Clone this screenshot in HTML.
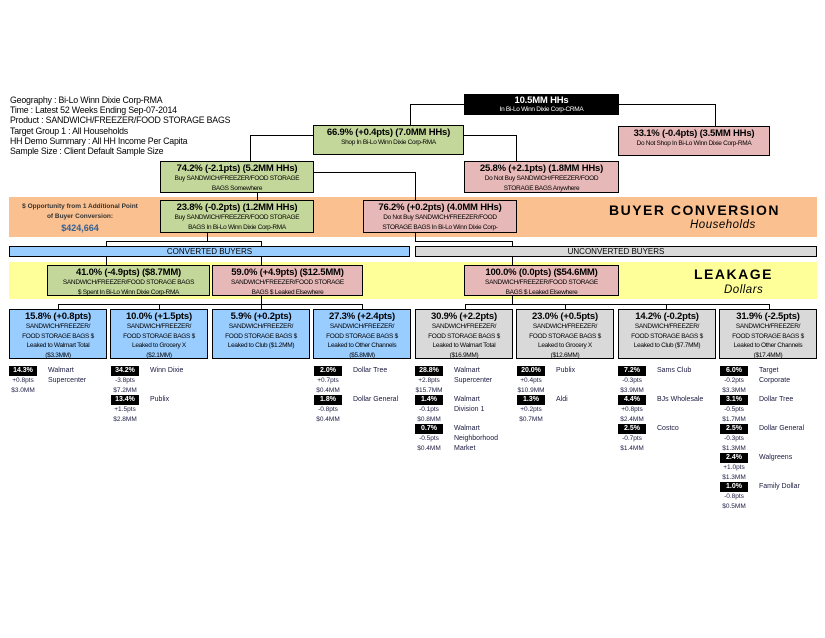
<!DOCTYPE html>
<html><head><meta charset="utf-8"><style>
body{margin:0;width:825px;height:638px;background:#fff;position:relative;overflow:hidden;font-family:"Liberation Sans",Arial,sans-serif;color:#000}
div{position:absolute;box-sizing:border-box}
.hl{height:1px;background:#000}
.vl{width:1px;background:#000}
.bx{border:1px solid #000;text-align:center;line-height:1;overflow:hidden}
.g{background:#c4d79b}.p{background:#e6b8b7}.b{background:#99ccff}.gr{background:#d9d9d9}
.t{font-size:9.5px;font-weight:bold;display:block;margin-top:2px;letter-spacing:-0.2px}
.s{font-size:6.5px;display:block;line-height:10px;letter-spacing:-0.3px;white-space:nowrap}
.l .t{margin-top:1px;line-height:11px}
.l .s{line-height:9.6px}
.k{background:#000;color:#fff;font-size:7px;font-weight:bold;width:28px;height:10px;text-align:center;line-height:10px}
.n{font-size:7px;line-height:10px;color:#1a1a40;white-space:nowrap}
.v{font-size:6.5px;line-height:9.5px;color:#1a1a40;width:28px;text-align:center}
</style></head><body>
<div style="left:10px;top:95px;font-size:8.8px;line-height:10.2px;letter-spacing:-0.2px">Geography : Bi-Lo Winn Dixie Corp-RMA<br>Time : Latest 52 Weeks Ending Sep-07-2014<br>Product : SANDWICH/FREEZER/FOOD STORAGE BAGS<br>Target Group 1 : All Households<br>HH Demo Summary : All HH Income Per Capita<br>Sample Size : Client Default Sample Size</div>

<div style="left:9px;top:197px;width:808px;height:40px;background:#fac090"></div>
<div style="left:9px;top:262px;width:808px;height:37px;background:#ffff99"></div>
<div style="left:15px;top:202px;width:130px;text-align:center;font-size:6.5px;font-weight:bold;line-height:9.5px;color:#333">$ Opportunity from 1 Additional Point<br>of Buyer Conversion:</div>
<div style="left:15px;top:223px;width:130px;text-align:center;font-size:9px;font-weight:bold;color:#366092">$424,664</div>
<div style="left:609px;top:202px;font-size:14px;font-weight:bold;letter-spacing:1.5px">BUYER CONVERSION</div>
<div style="left:690px;top:219px;font-size:11.5px;font-style:italic;letter-spacing:0.5px">Households</div>
<div style="left:694px;top:266px;font-size:14px;font-weight:bold;letter-spacing:1.5px">LEAKAGE</div>
<div style="left:724px;top:284px;font-size:11.5px;font-style:italic;letter-spacing:0.5px">Dollars</div>

<div class="hl" style="left:410px;top:104px;width:54px"></div>
<div class="vl" style="left:410px;top:104px;height:21px"></div>
<div class="hl" style="left:619px;top:104px;width:96px"></div>
<div class="vl" style="left:715px;top:104px;height:22px"></div>
<div class="hl" style="left:250px;top:135px;width:63px"></div>
<div class="vl" style="left:250px;top:135px;height:26px"></div>
<div class="hl" style="left:464px;top:135px;width:52px"></div>
<div class="vl" style="left:516px;top:135px;height:26px"></div>
<div class="vl" style="left:257px;top:193px;height:7px"></div>
<div class="hl" style="left:313px;top:172px;width:102px"></div>
<div class="vl" style="left:415px;top:172px;height:28px"></div>
<div class="vl" style="left:207px;top:233px;height:8px"></div>
<div class="hl" style="left:106px;top:241px;width:156px"></div>
<div class="vl" style="left:106px;top:241px;height:24px"></div>
<div class="vl" style="left:261px;top:241px;height:24px"></div>
<div class="vl" style="left:415px;top:233px;height:8px"></div>
<div class="hl" style="left:415px;top:241px;width:97px"></div>
<div class="vl" style="left:512px;top:241px;height:24px"></div>
<div class="vl" style="left:261px;top:296px;height:8px"></div>
<div class="hl" style="left:58px;top:304px;width:305px"></div>
<div class="vl" style="left:58px;top:304px;height:5px"></div>
<div class="vl" style="left:159px;top:304px;height:5px"></div>
<div class="vl" style="left:261px;top:304px;height:5px"></div>
<div class="vl" style="left:362px;top:304px;height:5px"></div>
<div class="vl" style="left:512px;top:296px;height:8px"></div>
<div class="hl" style="left:465px;top:304px;width:305px"></div>
<div class="vl" style="left:465px;top:304px;height:5px"></div>
<div class="vl" style="left:565px;top:304px;height:5px"></div>
<div class="vl" style="left:666px;top:304px;height:5px"></div>
<div class="vl" style="left:769px;top:304px;height:5px"></div>

<div class="bx b" style="left:9px;top:246px;width:401px;height:11px;font-size:8px;line-height:9px">CONVERTED BUYERS</div>
<div class="bx gr" style="left:415px;top:246px;width:402px;height:11px;font-size:8px;line-height:9px">UNCONVERTED BUYERS</div>

<div class="bx" style="left:464px;top:94px;width:155px;height:21px;background:#000;color:#fff"><span class="t" style="margin-top:1px">10.5MM HHs</span><span class="s" style="line-height:8px">In Bi-Lo Winn Dixie Corp-CRMA</span></div>
<div class="bx g" style="left:313px;top:125px;width:151px;height:30px"><span class="t">66.9% (+0.4pts) (7.0MM HHs)</span><span class="s">Shop In Bi-Lo Winn Dixie Corp-RMA</span></div>
<div class="bx p" style="left:618px;top:126px;width:152px;height:30px"><span class="t">33.1% (-0.4pts) (3.5MM HHs)</span><span class="s">Do Not Shop In Bi-Lo Winn Dixie Corp-RMA</span></div>
<div class="bx g" style="left:160px;top:161px;width:154px;height:32px"><span class="t">74.2% (-2.1pts) (5.2MM HHs)</span><span class="s">Buy SANDWICH/FREEZER/FOOD STORAGE</span><span class="s">BAGS Somewhere</span></div>
<div class="bx p" style="left:464px;top:161px;width:155px;height:32px"><span class="t">25.8% (+2.1pts) (1.8MM HHs)</span><span class="s">Do Not Buy SANDWICH/FREEZER/FOOD</span><span class="s">STORAGE BAGS Anywhere</span></div>
<div class="bx g" style="left:160px;top:200px;width:154px;height:33px"><span class="t">23.8% (-0.2pts) (1.2MM HHs)</span><span class="s">Buy SANDWICH/FREEZER/FOOD STORAGE</span><span class="s">BAGS In Bi-Lo Winn Dixie Corp-RMA</span></div>
<div class="bx p" style="left:363px;top:200px;width:154px;height:33px"><span class="t">76.2% (+0.2pts) (4.0MM HHs)</span><span class="s">Do Not Buy SANDWICH/FREEZER/FOOD</span><span class="s">STORAGE BAGS In Bi-Lo Winn Dixie Corp-</span></div>

<div class="bx g" style="left:47px;top:265px;width:163px;height:31px"><span class="t">41.0% (-4.9pts) ($8.7MM)</span><span class="s">SANDWICH/FREEZER/FOOD STORAGE BAGS</span><span class="s">$ Spent In Bi-Lo Winn Dixie Corp-RMA</span></div>
<div class="bx p" style="left:212px;top:265px;width:151px;height:31px"><span class="t">59.0% (+4.9pts) ($12.5MM)</span><span class="s">SANDWICH/FREEZER/FOOD STORAGE</span><span class="s">BAGS $ Leaked Elsewhere</span></div>
<div class="bx p" style="left:464px;top:265px;width:155px;height:31px"><span class="t">100.0% (0.0pts) ($54.6MM)</span><span class="s">SANDWICH/FREEZER/FOOD STORAGE</span><span class="s">BAGS $ Leaked Elsewhere</span></div>

<div class="bx b l" style="left:9px;top:309px;width:98px;height:50px"><span class="t">15.8% (+0.8pts)</span><span class="s">SANDWICH/FREEZER/</span><span class="s">FOOD STORAGE BAGS $</span><span class="s">Leaked to Walmart Total</span><span class="s">($3.3MM)</span></div>
<div class="bx b l" style="left:110px;top:309px;width:98px;height:50px"><span class="t">10.0% (+1.5pts)</span><span class="s">SANDWICH/FREEZER/</span><span class="s">FOOD STORAGE BAGS $</span><span class="s">Leaked to Grocery X</span><span class="s">($2.1MM)</span></div>
<div class="bx b l" style="left:212px;top:309px;width:98px;height:50px"><span class="t">5.9% (+0.2pts)</span><span class="s">SANDWICH/FREEZER/</span><span class="s">FOOD STORAGE BAGS $</span><span class="s">Leaked to Club ($1.2MM)</span></div>
<div class="bx b l" style="left:313px;top:309px;width:98px;height:50px"><span class="t">27.3% (+2.4pts)</span><span class="s">SANDWICH/FREEZER/</span><span class="s">FOOD STORAGE BAGS $</span><span class="s">Leaked to Other Channels</span><span class="s">($5.8MM)</span></div>
<div class="bx gr l" style="left:415px;top:309px;width:98px;height:50px"><span class="t">30.9% (+2.2pts)</span><span class="s">SANDWICH/FREEZER/</span><span class="s">FOOD STORAGE BAGS $</span><span class="s">Leaked to Walmart Total</span><span class="s">($16.9MM)</span></div>
<div class="bx gr l" style="left:516px;top:309px;width:98px;height:50px"><span class="t">23.0% (+0.5pts)</span><span class="s">SANDWICH/FREEZER/</span><span class="s">FOOD STORAGE BAGS $</span><span class="s">Leaked to Grocery X</span><span class="s">($12.6MM)</span></div>
<div class="bx gr l" style="left:618px;top:309px;width:98px;height:50px"><span class="t">14.2% (-0.2pts)</span><span class="s">SANDWICH/FREEZER/</span><span class="s">FOOD STORAGE BAGS $</span><span class="s">Leaked to Club ($7.7MM)</span></div>
<div class="bx gr l" style="left:719px;top:309px;width:98px;height:50px"><span class="t">31.9% (-2.5pts)</span><span class="s">SANDWICH/FREEZER/</span><span class="s">FOOD STORAGE BAGS $</span><span class="s">Leaked to Other Channels</span><span class="s">($17.4MM)</span></div>

<div class="k" style="left:9px;top:366px">14.3%</div><div class="n" style="left:48px;top:366px">Walmart<br>Supercenter</div><div class="v" style="left:9px;top:376px">+0.8pts<br>$3.0MM</div>
<div class="k" style="left:111px;top:366px">34.2%</div><div class="n" style="left:150px;top:366px">Winn Dixie</div><div class="v" style="left:111px;top:376px">-3.8pts<br>$7.2MM</div>
<div class="k" style="left:111px;top:395px">13.4%</div><div class="n" style="left:150px;top:395px">Publix</div><div class="v" style="left:111px;top:405px">+1.5pts<br>$2.8MM</div>
<div class="k" style="left:314px;top:366px">2.0%</div><div class="n" style="left:353px;top:366px">Dollar Tree</div><div class="v" style="left:314px;top:376px">+0.7pts<br>$0.4MM</div>
<div class="k" style="left:314px;top:395px">1.8%</div><div class="n" style="left:353px;top:395px">Dollar General</div><div class="v" style="left:314px;top:405px">-0.8pts<br>$0.4MM</div>
<div class="k" style="left:415px;top:366px">28.8%</div><div class="n" style="left:454px;top:366px">Walmart<br>Supercenter</div><div class="v" style="left:415px;top:376px">+2.8pts<br>$15.7MM</div>
<div class="k" style="left:415px;top:395px">1.4%</div><div class="n" style="left:454px;top:395px">Walmart<br>Division 1</div><div class="v" style="left:415px;top:405px">-0.1pts<br>$0.8MM</div>
<div class="k" style="left:415px;top:424px">0.7%</div><div class="n" style="left:454px;top:424px">Walmart<br>Neighborhood<br>Market</div><div class="v" style="left:415px;top:434px">-0.5pts<br>$0.4MM</div>
<div class="k" style="left:517px;top:366px">20.0%</div><div class="n" style="left:556px;top:366px">Publix</div><div class="v" style="left:517px;top:376px">+0.4pts<br>$10.9MM</div>
<div class="k" style="left:517px;top:395px">1.3%</div><div class="n" style="left:556px;top:395px">Aldi</div><div class="v" style="left:517px;top:405px">+0.2pts<br>$0.7MM</div>
<div class="k" style="left:618px;top:366px">7.2%</div><div class="n" style="left:657px;top:366px">Sams Club</div><div class="v" style="left:618px;top:376px">-0.3pts<br>$3.9MM</div>
<div class="k" style="left:618px;top:395px">4.4%</div><div class="n" style="left:657px;top:395px">BJs Wholesale</div><div class="v" style="left:618px;top:405px">+0.8pts<br>$2.4MM</div>
<div class="k" style="left:618px;top:424px">2.5%</div><div class="n" style="left:657px;top:424px">Costco</div><div class="v" style="left:618px;top:434px">-0.7pts<br>$1.4MM</div>
<div class="k" style="left:720px;top:366px">6.0%</div><div class="n" style="left:759px;top:366px">Target<br>Corporate</div><div class="v" style="left:720px;top:376px">-0.2pts<br>$3.3MM</div>
<div class="k" style="left:720px;top:395px">3.1%</div><div class="n" style="left:759px;top:395px">Dollar Tree</div><div class="v" style="left:720px;top:405px">-0.5pts<br>$1.7MM</div>
<div class="k" style="left:720px;top:424px">2.5%</div><div class="n" style="left:759px;top:424px">Dollar General</div><div class="v" style="left:720px;top:434px">-0.3pts<br>$1.3MM</div>
<div class="k" style="left:720px;top:453px">2.4%</div><div class="n" style="left:759px;top:453px">Walgreens</div><div class="v" style="left:720px;top:463px">+1.0pts<br>$1.3MM</div>
<div class="k" style="left:720px;top:482px">1.0%</div><div class="n" style="left:759px;top:482px">Family Dollar</div><div class="v" style="left:720px;top:492px">-0.8pts<br>$0.5MM</div>
</body></html>
